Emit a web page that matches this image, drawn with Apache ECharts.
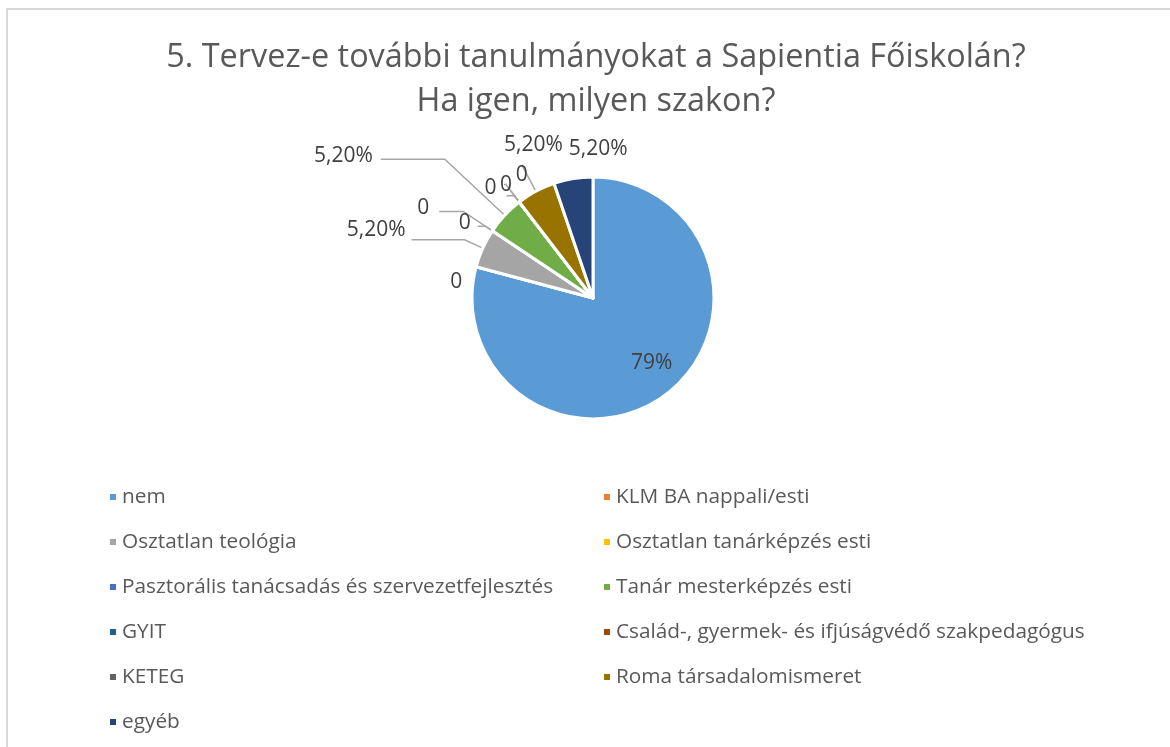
<!DOCTYPE html>
<html>
<head>
<meta charset="utf-8">
<script src="https://cdn.jsdelivr.net/npm/echarts@6/dist/echarts.min.js"></script>
<style>
    html, body { margin: 0; padding: 0; background: #fff; }
    .frame {
        position: absolute; left: 6px; top: 8px; width: 1164px; height: 739px;
        border-left: 2px solid #d9d9d9; border-top: 2px solid #d9d9d9;
    }
    #chart { position: absolute; left: 0; top: 0; width: 1170px; height: 747px; }
</style>
</head>
<body>
<div class="frame"></div>
<div id="chart"></div>
<script>
// categories in the order of the workbook
var categories = [
    'nem',
    'KLM BA nappali/esti',
    'Osztatlan teológia',
    'Osztatlan tanárképzés esti',
    'Pasztorális tanácsadás és szervezetfejlesztés',
    'Tanár mesterképzés esti',
    'GYIT',
    'Család-, gyermek- és ifjúságvédő szakpedagógus',
    'KETEG',
    'Roma társadalomismeret',
    'egyéb'
];
// share of answers (percent)
var values = [79, 0, 5.2, 0, 0, 5.2, 0, 0, 0, 5.2, 5.2];
// data labels as printed on the chart
var labelTexts = ['79%', '0', '5,20%', '0', '0', '5,20%', '0', '0', '0', '5,20%', '5,20%'];
var colors = ['#5b9bd5', '#ed7d31', '#a5a5a5', '#ffc000', '#4472c4', '#70ad47',
              '#255e91', '#9e480e', '#636363', '#997300', '#264478'];

var font = '"Open Sans", "Noto Sans", sans-serif';

// leader line lengths [radial, horizontal, visible]
var guide = [null, [6, 4, false], [20, 53], [35, 24], [8, 8], [82, 64],
             [8, 8], [22, 2], [14, 0], [30, 0], [10, 0, false]];
// small label nudges (Excel "best fit" placement)
var nudge = [[0, 0], [-1, 17], [-3, -10], [-7, -3], [-4, -3], [-5, -3],
             [-7, -8], [11, 0], [20, -16], [44, -20], [59, -20]];

var pieData = categories.map(function (name, i) {
    var item = { name: name, value: values[i], itemStyle: { color: colors[i] } };
    if (i === 0) {
        item.label = { position: 'inside', offset: [20, 15] };
        item.labelLine = { show: false };
    } else {
        item.labelLine = {
            show: guide[i][2] !== false,
            length: guide[i][0],
            length2: guide[i][1]
        };
    }
    return item;
});

var leftNames = categories.filter(function (c, i) { return i % 2 === 0; });
var rightNames = categories.filter(function (c, i) { return i % 2 === 1; });

function legendCol(left, names) {
    return {
        orient: 'vertical',
        left: left,
        top: 480,
        data: names,
        icon: 'rect',
        itemWidth: 8,
        itemHeight: 8,
        itemGap: 21,
        selectedMode: false,
        textStyle: { color: '#595959', fontFamily: font, fontSize: 20.8, lineHeight: 24 }
    };
}

var myChart = echarts.init(document.getElementById('chart'));
myChart.setOption({
    backgroundColor: 'transparent',
    animation: false,
    title: {
        text: '5. Tervez-e további tanulmányokat a Sapientia Főiskolán?\nHa igen, milyen szakon?',
        left: 591,
        top: 31,
        textAlign: 'center',
        textStyle: { color: '#595959', fontFamily: font, fontSize: 32.4, fontWeight: 'normal', lineHeight: 44 }
    },
    legend: [legendCol(103, leftNames), legendCol(597, rightNames)],
    series: [{
        type: 'pie',
        center: [593, 298],
        radius: 121,
        startAngle: 90,
        clockwise: true,
        avoidLabelOverlap: false,
        itemStyle: { borderColor: '#fff', borderWidth: 3 },
        label: {
            color: '#404040',
            fontFamily: font,
            fontSize: 21,
            distanceToLabelLine: 3,
            formatter: function (p) { return labelTexts[p.dataIndex]; }
        },
        labelLine: {
            show: true,
            lineStyle: { color: '#a6a6a6', width: 1.5 }
        },
        labelLayout: function (params) {
            var n = nudge[params.dataIndex];
            return { hideOverlap: false, dx: n[0], dy: n[1] };
        },
        data: pieData
    }]
});
</script>
</body>
</html>
